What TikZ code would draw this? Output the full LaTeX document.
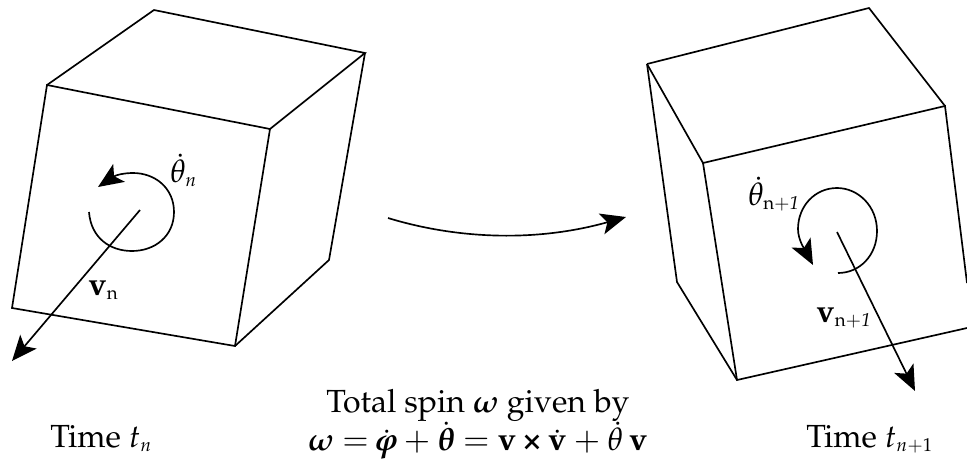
\documentclass[tikz,border=0pt]{standalone}
\usepackage[T1]{fontenc}
\usepackage{amsmath}
\usepackage{mathpazo}
\DeclareMathSizes{24}{24}{14}{11}
\usetikzlibrary{arrows.meta}
\tikzset{
  edge/.style={line width=1.25pt,line join=miter},
  arr/.style={line width=1.25pt,-{Stealth[length=19pt,width=16pt,inset=4.5pt]}},
  lbl/.style={inner sep=0pt,font=\fontsize{24}{28}\selectfont}
}
\begin{document}
\begin{tikzpicture}[x=0.75pt,y=-0.75pt]
\useasboundingbox (0,0) rectangle (967,461);
% left cube
\coordinate (a1) at (47,85);
\coordinate (a2) at (270,129);
\coordinate (a3) at (235,346);
\coordinate (a4) at (12,308);
\coordinate (a5) at (154,10);
\coordinate (a6) at (365,53);
\coordinate (a7) at (329,260);
\draw[edge] (a1)--(a2)--(a3)--(a4)--cycle;
\draw[edge] (a1)--(a5)--(a6)--(a2);
\draw[edge] (a6)--(a7)--(a3);
% right cube
\coordinate (b1) at (647,64);
\coordinate (b2) at (703,163);
\coordinate (b3) at (945,106);
\coordinate (b4) at (737,380);
\coordinate (b5) at (677,282);
\coordinate (b6) at (869,8);
\coordinate (b7) at (967,283);
\coordinate (b8) at (967,328);
\draw[edge] (b1)--(b2)--(b3)--(b7);
\draw[edge] (b2)--(b4)--(b8);
\draw[edge] (b1)--(b5)--(b4);
\draw[edge] (b1)--(b6)--(b3);
% left arrows
\coordinate (c1) at (140,210);
\coordinate (c2) at (12,361);
\draw[arr] (c1)--(c2);
\coordinate (s1) at (89,212);
\coordinate (s2) at (98,187);
\draw[arr] (s1) .. controls (91,238) and (110,251) .. (132,251)
  .. controls (155,251) and (174,236) .. (174,212)
  .. controls (174,188) and (155,173) .. (133,173)
  .. controls (124,173) and (116,175) .. (s2);
% right arrows
\coordinate (d1) at (837,232);
\coordinate (d2) at (915,391);
\draw[arr] (d1)--(d2);
\coordinate (r1) at (838,273);
\coordinate (r2) at (813,265);
\draw[arr] (r1) .. controls (860,273) and (877,255) .. (877,231)
  .. controls (877,206) and (858,188) .. (837,188)
  .. controls (815,188) and (798,206) .. (798,229)
  .. controls (798,240) and (805,250) .. (r2);
% middle arrow
\coordinate (m1) at (388,218);
\coordinate (m2) at (626,217);
\draw[arr] (m1) .. controls (450,237) and (530,244) .. (m2);
% labels
\node[lbl,anchor=base west] (t1) at (170,182) {$\dot{\theta}_{n}$};
\node[lbl,anchor=base west] (t2) at (88,295) {$\mathbf{v}_{\mathrm{n}}$};
\node[lbl,anchor=base west] (t3) at (748,205) {$\dot{\theta}_{\mathrm{n}+\mathit{1}}$};
\node[lbl,anchor=base west] (t4) at (816,322) {$\mathbf{v}_{\mathrm{n}+\mathit{1}}$};
\node[lbl,anchor=base west] (t5) at (50,447) {Time $t_{n}$};
\node[lbl,anchor=base west] (t6) at (806,447) {Time $t_{n+1}$};
\node[lbl,anchor=base] (t7) at (478,412) {Total spin $\boldsymbol{\omega}$ given by};
\node[lbl,anchor=base west] (t8) at (308,450) {\thickmuskip=4.5mu\medmuskip=4mu$\boldsymbol{\omega}=\dot{\boldsymbol{\varphi}}+\dot{\boldsymbol{\theta}}=\mathbf{v}\mkern3.5mu{\text{\bfseries\texttimes}}\mkern3.5mu\dot{\mathbf{v}}+\dot{\theta}\,\mathbf{v}$};
\end{tikzpicture}
\end{document}
